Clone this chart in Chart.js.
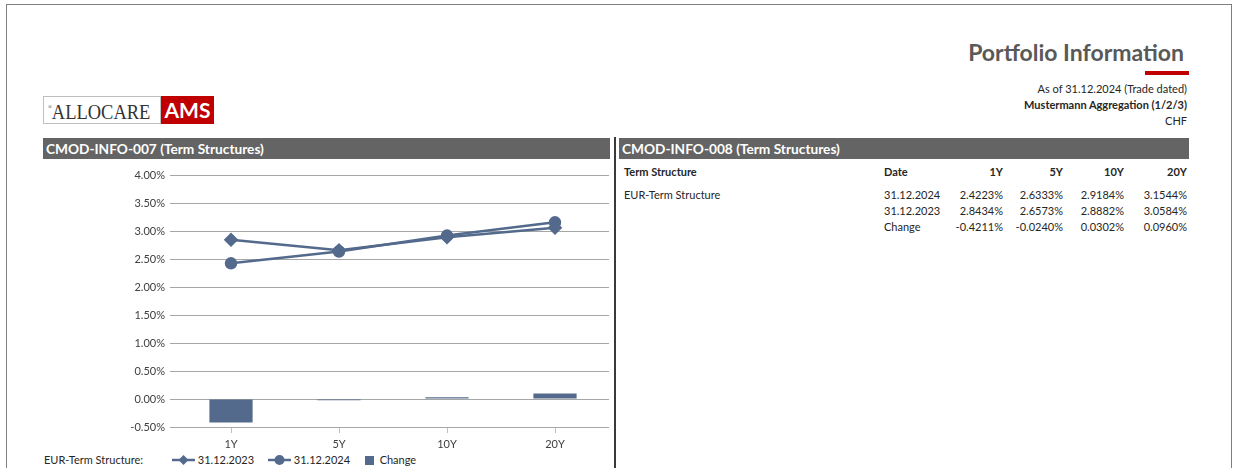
<!DOCTYPE html>
<html>
<head>
<meta charset="utf-8">
<script src="https://cdn.jsdelivr.net/npm/chart.js@4.4.1/dist/chart.umd.min.js"></script>
<style>
  html, body { margin:0; padding:0; background:#fff; }
  body { width:1238px; height:468px; position:relative; overflow:hidden; font-family:Lato, "Open Sans", sans-serif; color:#262626; }
  .frame { position:absolute; left:6px; top:4px; width:1226px; height:480px; border:1px solid #7f7f7f; box-sizing:border-box; }
  .abs { position:absolute; white-space:nowrap; }
  .title { right:54px; top:38px; font-size:23px; font-weight:bold; color:#595959; }
  .redline { left:1145px; top:71px; width:44px; height:4px; background:#c00000; }
  .info { right:51px; font-size:11px; text-align:right; color:#262626; }
  .logo { left:43px; top:96px; height:28px; width:171px; }
  .logo .w { position:absolute; left:0; top:0; width:118px; height:28px; border:1px solid #bfbfbf; box-sizing:border-box; overflow:hidden; }
  .logo .w span { position:absolute; left:4px; top:-3px; font-family:"Liberation Serif", "DejaVu Serif", serif; font-size:22px; line-height:27px; color:#333; transform:scaleX(0.84); transform-origin:0 50%; }
  .logo .r { position:absolute; left:118px; top:0; width:53px; height:28px; background:#c00000; color:#fff; font-weight:bold; font-size:21px; line-height:28px; text-align:center; }
  .hdr { top:138px; height:21px; background:#646464; color:#fff; font-weight:bold; font-size:13.7px; line-height:21px; padding-left:3px; box-sizing:border-box; }
  .vsep { left:614px; top:137px; width:2px; height:340px; background:#3a3a3a; }
  #chartbox { position:absolute; left:44px; top:163px; width:573px; height:287px; }
  .tbl { font-size:11px; }
  .b { font-weight:bold; }
  .leg { top:453px; font-size:11px; height:14px; line-height:14px; }
</style>
</head>
<body>
<div class="frame"></div>
<div class="abs title">Portfolio Information</div>
<div class="abs redline"></div>
<div class="abs info" style="top:82px;">As of 31.12.2024 (Trade dated)</div>
<div class="abs info b" style="top:98px;">Mustermann Aggregation (1/2/3)</div>
<div class="abs info" style="top:114px;">CHF</div>
<div class="abs logo"><div class="w"><span><sup style="font-size:6px;vertical-align:10px;">®</sup>ALLOCARE</span></div><div class="r">AMS</div></div>
<div class="abs hdr" style="left:43px;width:567px;">CMOD-INFO-007 (Term Structures)</div>
<div class="abs hdr" style="left:619px;width:570px;">CMOD-INFO-008 (Term Structures)</div>
<div id="chartbox"><canvas id="c"></canvas></div>
<div class="abs vsep"></div>
<div id="legend"></div>
<div id="table"></div>
<script>
const categories = ['1Y', '5Y', '10Y', '20Y'];
const curveName = 'EUR-Term Structure';
const date2024 = '31.12.2024';
const date2023 = '31.12.2023';
const values2024 = [2.4223, 2.6333, 2.9184, 3.1544];
const values2023 = [2.8434, 2.6573, 2.8882, 3.0584];
const changeValues = [-0.4211, -0.0240, 0.0302, 0.0960];
const yMin = -0.5, yMax = 4.0, yStep = 0.5;

const SERIES = '#546a8c';
const fontFam = 'Lato, "Open Sans", sans-serif';

new Chart(document.getElementById('c'), {
  data: {
    labels: categories,
    datasets: [
      { type:'line', label:date2023, data:values2023, borderColor:SERIES, backgroundColor:SERIES, borderWidth:2.5,
        pointStyle:'rectRot', pointRadius:5.5, pointHoverRadius:5.5, order:1 },
      { type:'line', label:date2024, data:values2024, borderColor:SERIES, backgroundColor:SERIES, borderWidth:2.5,
        pointStyle:'circle', pointRadius:5, pointHoverRadius:5, order:1 },
      { type:'bar', label:'Change', data:changeValues, backgroundColor:SERIES, borderWidth:0,
        categoryPercentage:1.0, barPercentage:0.4, order:2 }
    ]
  },
  options: {
    responsive:true, maintainAspectRatio:false, animation:false,
    layout:{ padding:{ top:12, right:0, left:0, bottom:0 } },
    plugins:{ legend:{ display:false }, tooltip:{ enabled:false } },
    scales:{
      x:{ type:'category', offset:true,
        grid:{ display:true, drawOnChartArea:false, offset:false, tickLength:6, color:'#bfbfbf', lineWidth:1 },
        border:{ display:false },
        ticks:{ color:'#404040', font:{ family:fontFam, size:11 }, padding:5 },
        afterFit(s){ s.height = 23; } },
      y:{ min:yMin, max:yMax,
        grid:{ color:'#a6a6a6', lineWidth:1, tickLength:7 },
        border:{ display:false },
        ticks:{ stepSize:yStep, color:'#404040', font:{ family:fontFam, size:11 }, padding:5,
          callback:(v)=> v.toFixed(2) + '%' },
        afterFit(s){ s.width = 133; } }
    }
  }
});

// legend
const legend = document.getElementById('legend');
function legItem(x, html){ const d=document.createElement('div'); d.className='abs leg'; d.style.left=x+'px'; d.innerHTML=html; legend.appendChild(d); }
legItem(44, curveName + ':');
legItem(172, `<svg width="23" height="14" style="vertical-align:top"><line x1="0" y1="7" x2="23" y2="7" stroke="${SERIES}" stroke-width="2.5"/><polygon points="11.5,2 16.5,7 11.5,12 6.5,7" fill="${SERIES}"/></svg> ${date2023}`);
legItem(268, `<svg width="23" height="14" style="vertical-align:top"><line x1="0" y1="7" x2="23" y2="7" stroke="${SERIES}" stroke-width="2.5"/><circle cx="11.5" cy="7" r="5" fill="${SERIES}"/></svg> ${date2024}`);
legItem(365, `<svg width="9" height="14" style="vertical-align:top"><rect x="0" y="3" width="9" height="9" fill="${SERIES}"/></svg>&nbsp;&nbsp;Change`);

// table
const table = document.getElementById('table');
const colRight = [1003, 1063, 1124, 1187];
function cell(txt, left, right, top, bold){
  const d=document.createElement('div'); d.className='abs tbl'+(bold?' b':'');
  d.textContent=txt; d.style.top=top+'px';
  if (left!=null) d.style.left=left+'px'; else d.style.right=(1238-right)+'px';
  table.appendChild(d);
}
const fmt = v => v.toFixed(4) + '%';
const rowTop = [165, 188, 204, 220];
cell('Term Structure', 624, null, rowTop[0], true);
cell('Date', 884, null, rowTop[0], true);
categories.forEach((c,i)=>cell(c, null, colRight[i], rowTop[0], true));
cell(curveName, 624, null, rowTop[1], false);
[[date2024, values2024],[date2023, values2023],['Change', changeValues]].forEach((r,ri)=>{
  cell(r[0], 884, null, rowTop[ri+1], false);
  r[1].forEach((v,i)=>cell(fmt(v), null, colRight[i], rowTop[ri+1], false));
});
</script>
</body>
</html>
